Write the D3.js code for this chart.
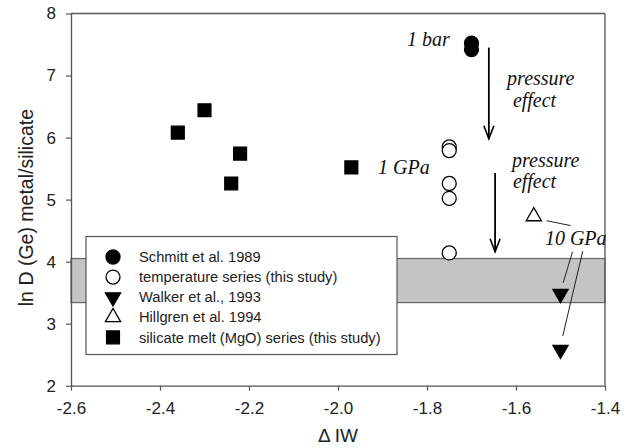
<!DOCTYPE html>
<html>
<head>
<meta charset="utf-8">
<script src="https://cdn.jsdelivr.net/npm/d3@7/dist/d3.min.js"></script>
<style>
  html, body { margin: 0; padding: 0; background: #fff; }
  svg { display: block; }
  text { font-family: "Liberation Sans", Arial, sans-serif; }
</style>
</head>
<body>
<svg id="chart" width="626" height="448"></svg>
<script>
// ---- data ----
const xTicks = [-2.6, -2.4, -2.2, -2.0, -1.8, -1.6, -1.4];
const yTicks = [2, 3, 4, 5, 6, 7, 8];

const schmittX = [-1.70, -1.70];
const schmittY = [7.52, 7.42];

const tempX = [-1.75, -1.75, -1.75, -1.75, -1.75];
const tempY = [5.85, 5.79, 5.26, 5.02, 4.14];

const walkerX = [-1.50, -1.50];
const walkerY = [3.48, 2.58];

const hillgrenX = [-1.56];
const hillgrenY = [4.73];

const mgoX = [-2.36, -2.30, -2.22, -2.24, -1.97];
const mgoY = [6.08, 6.44, 5.74, 5.26, 5.52];

const bandLow = 3.34, bandHigh = 4.05;

const legendLabels = [
  "Schmitt et al. 1989",
  "temperature series (this study)",
  "Walker et al., 1993",
  "Hillgren et al. 1994",
  "silicate melt (MgO) series (this study)"
];

// annotations in data coordinates
const labelText = ["1 bar", "pressure", "effect", "1 GPa", "pressure", "effect", "10 GPa"];
const labelX    = [-1.845, -1.620, -1.607, -1.910, -1.609, -1.607, -1.535];
const labelY    = [7.48, 6.85, 6.50, 5.41, 5.53, 5.19, 4.27];

const arrowX  = [-1.661, -1.647];
const arrowY1 = [7.45, 5.43];
const arrowY2 = [5.98, 4.16];

const leaderX1 = [-1.531, -1.473, -1.450];
const leaderY1 = [4.66, 4.16, 4.17];
const leaderX2 = [-1.477, -1.494, -1.495];
const leaderY2 = [4.58, 3.66, 2.80];

// ---- layout ----
const svg = d3.select("#chart");
const mLeft = 71, mRight = 605, mTop = 13.5, mBottom = 385.7;
const x = d3.scaleLinear().domain([-2.6, -1.4]).range([mLeft, mRight]);
const y = d3.scaleLinear().domain([2, 8]).range([mBottom, mTop]);
const axisColor = "#555";

// band
svg.append("rect")
  .attr("x", x(-2.6)).attr("width", x(-1.4) - x(-2.6))
  .attr("y", y(bandHigh)).attr("height", y(bandLow) - y(bandHigh))
  .attr("fill", "#c4c4c4").attr("stroke", "#666").attr("stroke-width", 1.2);

// frame (top & right)
svg.append("line").attr("x1", mLeft).attr("x2", mRight).attr("y1", mTop).attr("y2", mTop)
  .attr("stroke", axisColor).attr("stroke-width", 1.3);
svg.append("line").attr("x1", mRight).attr("x2", mRight).attr("y1", mTop).attr("y2", mBottom)
  .attr("stroke", axisColor).attr("stroke-width", 1.3);

// axes
const xAxis = d3.axisBottom(x).tickValues(xTicks).tickFormat(d => d.toFixed(1))
  .tickSizeInner(5).tickSizeOuter(0).tickPadding(11);
const yAxis = d3.axisLeft(y).tickValues(yTicks).tickFormat(d => String(d))
  .tickSizeInner(5).tickSizeOuter(0).tickPadding(10);

const gx = svg.append("g").attr("transform", `translate(0,${mBottom})`).call(xAxis);
const gy = svg.append("g").attr("transform", `translate(${mLeft},0)`).call(yAxis);
[gx, gy].forEach(g => {
  g.select(".domain").attr("stroke", axisColor).attr("stroke-width", 1.3);
  g.selectAll(".tick line").attr("stroke", axisColor).attr("stroke-width", 1.2);
  g.selectAll(".tick text").attr("fill", "#222")
    .style("font-family", "'Liberation Sans', Arial, sans-serif").style("font-size", "17px");
});
gx.selectAll(".tick text").attr("dy", "0.71em");

// axis titles
svg.append("text").attr("x", (mLeft + mRight) / 2).attr("y", 442)
  .attr("text-anchor", "middle").attr("fill", "#222")
  .style("font-size", "19px").text("\u0394 IW");
svg.append("text").attr("transform", `translate(33,${(mTop + mBottom) / 2 + 8}) rotate(-90)`)
  .attr("text-anchor", "middle").attr("fill", "#222")
  .style("font-size", "19.5px").text("ln D (Ge) metal/silicate");

// symbols
const sym = (type, size) => d3.symbol().type(type).size(size)();
const circle = sym(d3.symbolCircle, 154);
const square = sym(d3.symbolSquare, 165);
const tri = sym(d3.symbolTriangle, 100);

function plot(xs, ys, path, fill, rot) {
  svg.append("g").selectAll("path").data(xs.map((d, i) => [d, ys[i]])).join("path")
    .attr("d", path)
    .attr("transform", d => `translate(${x(d[0])},${y(d[1])})${rot ? " rotate(180)" : ""}`)
    .attr("fill", fill).attr("stroke", "#000").attr("stroke-width", 1.3);
}
plot(mgoX, mgoY, square, "#000", false);
plot(schmittX, schmittY, circle, "#000", false);
plot(tempX, tempY, circle, "#fff", false);
plot(walkerX, walkerY, tri, "#000", true);
plot(hillgrenX, hillgrenY, tri, "#fff", false);

// arrows
arrowX.forEach((ax, i) => {
  const px = x(ax), y1 = y(arrowY1[i]), y2 = y(arrowY2[i]);
  svg.append("line").attr("x1", px).attr("x2", px).attr("y1", y1).attr("y2", y2)
    .attr("stroke", "#000").attr("stroke-width", 1.8);
  svg.append("path").attr("d", `M${px - 5},${y2 - 13} L${px},${y2} L${px + 5},${y2 - 13}`)
    .attr("fill", "none").attr("stroke", "#000").attr("stroke-width", 1.6);
});

// leader lines
leaderX1.forEach((lx, i) => {
  svg.append("line").attr("x1", x(lx)).attr("y1", y(leaderY1[i]))
    .attr("x2", x(leaderX2[i])).attr("y2", y(leaderY2[i]))
    .attr("stroke", "#222").attr("stroke-width", 1);
});

// annotation text
labelText.forEach((t, i) => {
  svg.append("text").attr("x", x(labelX[i])).attr("y", y(labelY[i]))
    .attr("fill", "#111")
    .style("font-family", "'Liberation Serif', 'Times New Roman', serif")
    .style("font-style", "italic").style("font-size", "20px").text(t);
});

// legend
const lg = svg.append("g");
lg.append("rect").attr("x", 86).attr("y", 236.5).attr("width", 311).attr("height", 118)
  .attr("fill", "#fff").attr("stroke", "#555").attr("stroke-width", 1.2);
const legendSyms = [
  { p: circle, fill: "#000", rot: false },
  { p: circle, fill: "#fff", rot: false },
  { p: tri, fill: "#000", rot: true },
  { p: tri, fill: "#fff", rot: false },
  { p: square, fill: "#000", rot: false }
];
legendLabels.forEach((lab, i) => {
  const cy = 257 + i * 20.1;
  const s = legendSyms[i];
  lg.append("path").attr("d", s.p)
    .attr("transform", `translate(113,${cy})${s.rot ? " rotate(180)" : ""}`)
    .attr("fill", s.fill).attr("stroke", "#000").attr("stroke-width", 1.3);
  lg.append("text").attr("x", 139).attr("y", cy).attr("dy", "0.35em")
    .attr("fill", "#222").style("font-size", "14.7px").text(lab);
});
</script>
</body>
</html>
